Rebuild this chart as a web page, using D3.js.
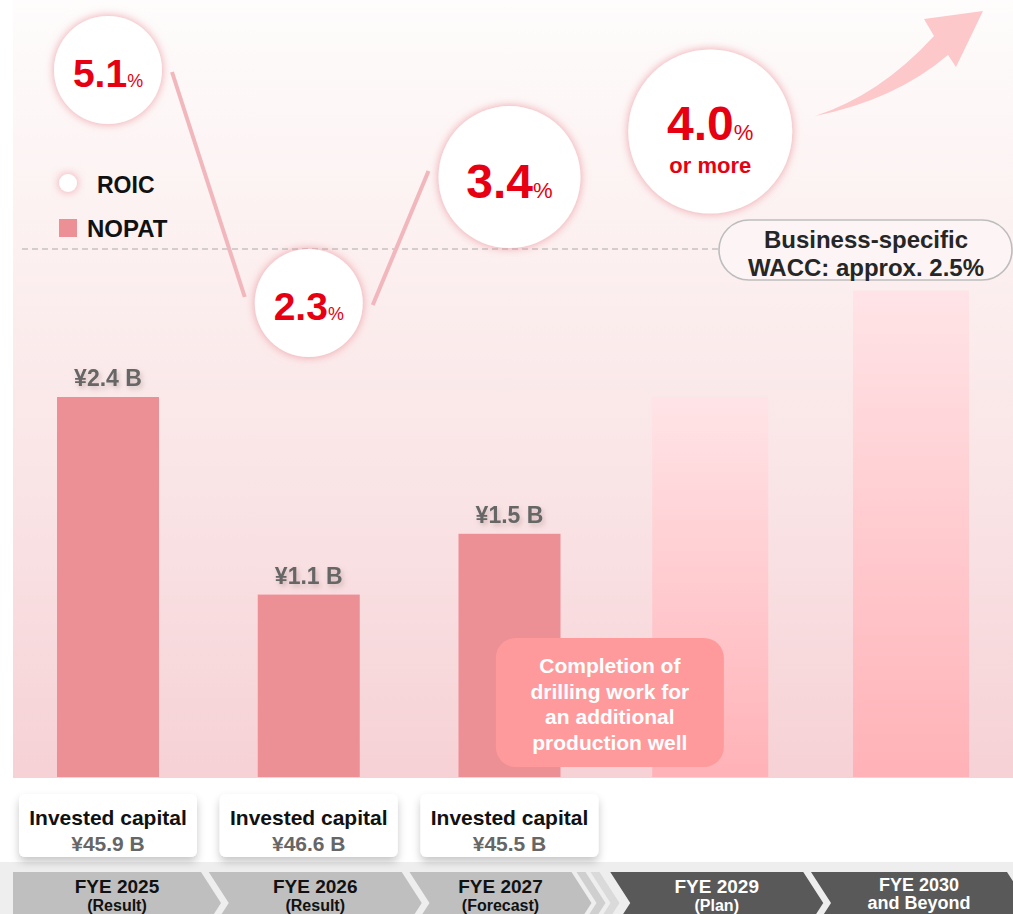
<!DOCTYPE html>
<html>
<head>
<meta charset="utf-8">
<script src="https://cdn.jsdelivr.net/npm/d3@7"></script>
<style>
body { margin: 0; background: #fff; }
svg { display: block; font-family: "Liberation Sans", Arial, sans-serif; font-weight: bold; }
</style>
</head>
<body>
<svg id="chart" width="1013" height="914"></svg>
<script>
// data
var categories = ['FYE 2025', 'FYE 2026', 'FYE 2027', 'FYE 2029', 'FYE 2030'];
var subLabels = ['(Result)', '(Result)', '(Forecast)', '(Plan)', 'and Beyond'];
var stages = ['Result', 'Result', 'Forecast', 'Plan', 'Plan'];
var roic = [5.1, 2.3, 3.4, 4.0, null];
var roicNotes = ['', '', '', 'or more', ''];
var nopat = [2.4, 1.1, 1.5, null, null];
var outlook = [null, null, null, 2.4, 3.1]; // faded growth bars, no figures
var investedCapital = [45.9, 46.6, 45.5, null, null];
var wacc = 2.5;
var noteLines = ['Completion of', 'drilling work for', 'an additional', 'production well'];

var W = 1013, H = 914;
var svg = d3.select('#chart');
var defs = svg.append('defs');

// scales
var x = d3.scalePoint().domain(categories).range([108, 911]);
var yBar = d3.scaleLinear().domain([-0.1, 2.4]).range([777, 397]);
var yRoic = d3.scalePow().exponent(-0.5).domain([2.3, 5.1]).range([303, 70]);
var rStage = d3.scaleOrdinal().domain(['Result', 'Forecast', 'Plan']).range([54, 71, 82]);
var fStage = d3.scaleOrdinal().domain(['Result', 'Forecast', 'Plan']).range([39, 48, 48]);
var base = yBar(yBar.domain()[0]);
var barW = 102, bandW = 116;
var waccY = 249;
var fmt = d3.format('.1f');

// gradients and filters
var pg = defs.append('linearGradient').attr('id', 'panel').attr('x1', 0).attr('y1', 0).attr('x2', 0).attr('y2', 1);
[[0, '#fefcfc'], [0.35, '#fcefef'], [0.7, '#f9e1e3'], [1, '#f6d1d5']].forEach(function(s){
	pg.append('stop').attr('offset', s[0]).attr('stop-color', s[1]);
});
var bg = defs.append('linearGradient').attr('id', 'band').attr('x1', 0).attr('y1', 0).attr('x2', 0).attr('y2', 1);
bg.append('stop').attr('offset', 0).attr('stop-color', '#ffe4e7');
bg.append('stop').attr('offset', 1).attr('stop-color', '#ffb2b7');

var glow = defs.append('filter').attr('id', 'glow').attr('x', '-40%').attr('y', '-40%').attr('width', '180%').attr('height', '180%');
glow.append('feDropShadow').attr('dx', 0).attr('dy', 0).attr('stdDeviation', 5)
	.attr('flood-color', '#e8838c').attr('flood-opacity', 0.75);
var tshadow = defs.append('filter').attr('id', 'tshadow').attr('x', '-20%').attr('y', '-40%').attr('width', '140%').attr('height', '200%');
tshadow.append('feDropShadow').attr('dx', 2).attr('dy', 3).attr('stdDeviation', 2.5)
	.attr('flood-color', '#8a6a6c').attr('flood-opacity', 0.35);
var cshadow = defs.append('filter').attr('id', 'cshadow').attr('x', '-20%').attr('y', '-30%').attr('width', '140%').attr('height', '170%');
cshadow.append('feDropShadow').attr('dx', 0).attr('dy', 5).attr('stdDeviation', 4)
	.attr('flood-color', '#000').attr('flood-opacity', 0.22);

// background panel
svg.append('rect').attr('x', 13).attr('y', 0).attr('width', W - 13).attr('height', 778)
	.attr('fill', 'url(#panel)');

var idx = d3.range(categories.length);

// faded outlook bands
svg.append('g').selectAll('rect')
	.data(idx.filter(function(i){ return outlook[i] != null; }))
	.enter().append('rect')
	.attr('x', function(i){ return x(categories[i]) - bandW / 2; })
	.attr('y', function(i){ return yBar(outlook[i]); })
	.attr('width', bandW)
	.attr('height', function(i){ return base - yBar(outlook[i]); })
	.attr('fill', 'url(#band)');

// NOPAT bars
var bars = idx.filter(function(i){ return nopat[i] != null; });
svg.append('g').selectAll('rect')
	.data(bars)
	.enter().append('rect')
	.attr('x', function(i){ return x(categories[i]) - barW / 2; })
	.attr('y', function(i){ return yBar(nopat[i]); })
	.attr('width', barW)
	.attr('height', function(i){ return base - yBar(nopat[i]); })
	.attr('fill', '#ec9096');
svg.append('g').selectAll('text')
	.data(bars)
	.enter().append('text')
	.attr('x', function(i){ return x(categories[i]); })
	.attr('y', function(i){ return yBar(nopat[i]) - 11; })
	.attr('text-anchor', 'middle')
	.attr('font-size', 23)
	.attr('fill', '#666')
	.attr('filter', 'url(#tshadow)')
	.text(function(i){ return '\u00A5' + fmt(nopat[i]) + ' B'; });

// WACC reference line and label
svg.append('line').attr('x1', 22).attr('x2', 719).attr('y1', waccY).attr('y2', waccY)
	.attr('stroke', '#a9a9a9').attr('stroke-width', 1.2).attr('stroke-dasharray', '6,4');
svg.append('rect').attr('x', 719).attr('y', waccY - 29).attr('width', 293).attr('height', 60)
	.attr('rx', 30).attr('fill', '#fdf4f5').attr('fill-opacity', 0.9)
	.attr('stroke', '#bdbdbd').attr('stroke-width', 1.6);
svg.append('g').selectAll('text')
	.data(['Business-specific', 'WACC: approx. ' + wacc + '%'])
	.enter().append('text')
	.attr('x', 866)
	.attr('y', function(d, k){ return waccY - 1 + k * 28; })
	.attr('text-anchor', 'middle')
	.attr('font-size', 24)
	.attr('fill', '#262626')
	.text(function(d){ return d; });

// ROIC connecting lines
var pts = idx.filter(function(i){ return roic[i] != null; }).map(function(i){
	return { i: i, cx: x(categories[i]), cy: yRoic(roic[i]), r: rStage(stages[i]), fs: fStage(stages[i]) };
});
var segs = [];
for (var k = 0; k < pts.length - 1; k++){
	if (stages[pts[k + 1].i] !== 'Plan') segs.push([pts[k], pts[k + 1]]);
}
svg.append('g').selectAll('line')
	.data(segs)
	.enter().append('line')
	.attr('x1', function(s){ return s[0].cx + s[0].r + 10; })
	.attr('y1', function(s){ return s[0].cy + 2; })
	.attr('x2', function(s){ return s[1].cx - s[1].r - 10; })
	.attr('y2', function(s){ return s[1].cy - 6; })
	.attr('stroke', '#f2b7bc')
	.attr('stroke-width', 4);

// ROIC circles
var cg = svg.append('g').selectAll('g')
	.data(pts)
	.enter().append('g');
cg.append('circle')
	.attr('cx', function(p){ return p.cx; })
	.attr('cy', function(p){ return p.cy; })
	.attr('r', function(p){ return p.r; })
	.attr('fill', '#fff')
	.attr('filter', 'url(#glow)');
var ct = cg.append('text')
	.attr('x', function(p){ return p.cx; })
	.attr('y', function(p){ return p.cy + p.fs * 0.43 - (roicNotes[p.i] ? 12 : 0); })
	.attr('text-anchor', 'middle')
	.attr('fill', '#e60012');
ct.append('tspan')
	.attr('font-size', function(p){ return p.fs; })
	.text(function(p){ return fmt(roic[p.i]); });
ct.append('tspan')
	.attr('font-size', function(p){ return p.fs * 0.46; })
	.attr('font-weight', 'normal')
	.text('%');
cg.filter(function(p){ return roicNotes[p.i]; })
	.append('text')
	.attr('x', function(p){ return p.cx; })
	.attr('y', function(p){ return p.cy + 41; })
	.attr('text-anchor', 'middle')
	.attr('font-size', 22)
	.attr('fill', '#e60012')
	.text(function(p){ return roicNotes[p.i]; });

// legend
svg.append('circle').attr('cx', 68).attr('cy', 183).attr('r', 9)
	.attr('fill', '#fff').attr('filter', 'url(#glow)');
svg.append('text').attr('x', 97).attr('y', 193).attr('font-size', 23).attr('fill', '#111').text('ROIC');
svg.append('rect').attr('x', 59).attr('y', 219).attr('width', 18).attr('height', 18).attr('fill', '#ec9096');
svg.append('text').attr('x', 87).attr('y', 237).attr('font-size', 24).attr('fill', '#111').text('NOPAT');

// annotation between forecast and plan
var nx = (x('FYE 2027') + x('FYE 2029')) / 2;
var nb = base - 10;
svg.append('rect').attr('x', nx - 114).attr('y', nb - 129).attr('width', 228).attr('height', 129)
	.attr('rx', 20).attr('fill', '#ff9a9c');
svg.append('g').selectAll('text')
	.data(noteLines)
	.enter().append('text')
	.attr('x', nx)
	.attr('y', function(d, k){ return nb - 94 + k * 25.5; })
	.attr('text-anchor', 'middle')
	.attr('font-size', 21)
	.attr('fill', '#fff')
	.text(function(d){ return d; });

// growth arrow
svg.append('path')
	.attr('d', 'M815,116 Q880,95 934,36 L924,19 L983,11 L956,67 L948,55 Q895,100 815,116 Z')
	.attr('fill', '#fcc8ca');

// bottom strip
svg.append('rect').attr('x', 0).attr('y', 862).attr('width', W).attr('height', H - 862).attr('fill', '#eeeeee');

// invested capital cards
var caps = idx.filter(function(i){ return investedCapital[i] != null; });
var card = svg.append('g').selectAll('g')
	.data(caps)
	.enter().append('g');
card.append('rect')
	.attr('x', function(i){ return x(categories[i]) - 89; })
	.attr('y', 794)
	.attr('width', 178).attr('height', 63).attr('rx', 6)
	.attr('fill', '#fff').attr('filter', 'url(#cshadow)');
card.append('text')
	.attr('x', function(i){ return x(categories[i]); })
	.attr('y', 825).attr('text-anchor', 'middle').attr('font-size', 21).attr('fill', '#111')
	.text('Invested capital');
card.append('text')
	.attr('x', function(i){ return x(categories[i]); })
	.attr('y', 851).attr('text-anchor', 'middle').attr('font-size', 21).attr('fill', '#666')
	.text(function(i){ return '\u00A5' + fmt(investedCapital[i]) + ' B'; });

// timeline chevrons
var cTop = 872, cBot = 934, cMid = (cTop + cBot) / 2, dep = 20;
function chevron(L, R, flat){
	var p = [[L, cTop], [R, cTop], [R + dep, cMid], [R, cBot], [L, cBot]];
	if (!flat) p.push([L + dep, cMid]);
	return p.map(function(q){ return q.join(','); }).join(' ');
}
var chev = idx.map(function(i){
	var c = x(categories[i]);
	var L = i === 0 ? 13 : c - 100;
	var R = stages[i] === 'Forecast' ? c + 62 : (i === idx.length - 1 ? W - 6 : c + 93);
	return { i: i, L: L, R: R };
});
// skipped year markers after the forecast column
var fc = chev.filter(function(d){ return stages[d.i] === 'Forecast'; })[0];
svg.append('g').selectAll('polygon')
	.data([[fc.R + 5, '#cfcfcf'], [fc.R + 19, '#dadada']])
	.enter().append('polygon')
	.attr('points', function(d){ return chevron(d[0], d[0] + 9, false); })
	.attr('fill', function(d){ return d[1]; });

var cv = svg.append('g').selectAll('g')
	.data(chev)
	.enter().append('g');
cv.append('polygon')
	.attr('points', function(d){ return chevron(d.L, d.R, d.i === 0); })
	.attr('fill', function(d){ return stages[d.i] === 'Plan' ? '#595959' : '#bfbfbf'; });
cv.append('text')
	.attr('x', function(d){ return (d.L + d.R + dep) / 2; })
	.attr('y', function(d){ return subLabels[d.i].charAt(0) === '(' ? 893 : 891; })
	.attr('text-anchor', 'middle')
	.attr('font-size', function(d){ return subLabels[d.i].charAt(0) === '(' ? 19 : 18; })
	.attr('fill', function(d){ return stages[d.i] === 'Plan' ? '#fff' : '#111'; })
	.text(function(d){ return categories[d.i]; });
cv.append('text')
	.attr('x', function(d){ return (d.L + d.R + dep) / 2; })
	.attr('y', function(d){ return subLabels[d.i].charAt(0) === '(' ? 911 : 909; })
	.attr('text-anchor', 'middle')
	.attr('font-size', function(d){ return subLabels[d.i].charAt(0) === '(' ? 16 : 18; })
	.attr('fill', function(d){ return stages[d.i] === 'Plan' ? '#fff' : '#111'; })
	.text(function(d){ return subLabels[d.i]; });
</script>
</body>
</html>
